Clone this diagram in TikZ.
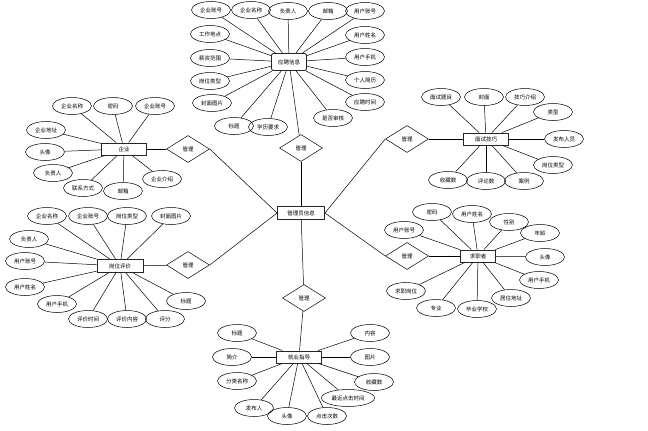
\documentclass[tikz,border=0pt]{standalone}
\usepackage{fontspec}
\setmainfont{Noto Sans CJK SC}
\usetikzlibrary{shapes.geometric}

\tikzset{
  entity/.style={draw=black!85, line width=0.9pt, minimum width=45, minimum height=12, inner sep=1pt},
  attr/.style={draw, ellipse, minimum width=39, minimum height=17, inner sep=0pt},
  rel/.style={draw, diamond, aspect=1.6, minimum width=43, minimum height=27, inner sep=0pt},
}

\begin{document}
\begin{tikzpicture}[x=1pt,y=-1pt,font=\fontsize{5.5}{6.5}\selectfont,line width=0.5pt]
\useasboundingbox (0,0) rectangle (648,431);

% central entity
\node[entity, minimum width=47, minimum height=13] (admin) at (301,213) {管理员信息};

% top: apply info
\node[entity, rounded corners=2pt, minimum width=35, minimum height=17] (apply) at (289,62) {应聘信息};
\node[rel] (r1) at (301,148) {管理};
\foreach \n/\x/\y/\txt in {a1/211/10/企业账号, a2/251/10/企业名称, a3/288/11/负责人, a4/328/11/邮箱,
    a5/365/11/用户账号, a6/365/35/用户姓名, a7/365/57/用户手机, a8/365/80/个人简历, a9/365/102/应聘时间,
    a10/333/118/是否审核, a11/268/127/学历要求, a12/234/126/标题, a13/212/103/封面图片,
    a14/210/81/岗位类型, a15/210/58/薪资范围, a16/210/34/工作地点}
  {\node[attr] (apply-\n) at (\x,\y) {\txt};
   \draw (apply) -- (apply-\n);}
\draw (apply) -- (r1);
\draw (r1) -- (admin);

% left top: firm
\node[entity] (firm) at (124,149) {企业};
\node[rel] (r2) at (188,149) {管理};
\foreach \n/\x/\y/\txt in {a1/72/106/企业名称, a2/113/106/密码, a3/155/106/企业账号, a4/46/130/企业地址,
    a5/45/152/头像, a6/53/173/负责人, a7/83/188/联系方式, a8/123/191/邮箱, a9/162/179/企业介绍}
  {\node[attr] (firm-\n) at (\x,\y) {\txt};
   \draw (firm) -- (firm-\n);}
\draw (firm) -- (r2);
\draw (r2.east) -- (admin.west);

% right top: skill
\node[entity] (skill) at (486,139) {面试技巧};
\node[rel] (r3) at (407,139) {管理};
\foreach \n/\x/\y/\txt in {a1/441/97/面试题目, a2/484/97/封面, a3/525/97/技巧介绍, a4/553/112/类型,
    a5/564/139/发布人员, a6/553/165/岗位类型, a7/524/181/案例, a8/486/181/评论数, a9/448/180/收藏数}
  {\node[attr] (skill-\n) at (\x,\y) {\txt};
   \draw (skill) -- (skill-\n);}
\draw (skill) -- (r3);
\draw (r3.west) -- (admin.east);

% left bottom: review
\node[entity, minimum width=46, minimum height=13] (review) at (120,266) {岗位评价};
\node[rel] (r4) at (188,265) {管理};
\foreach \n/\x/\y/\txt in {a1/47/216/企业名称, a2/88/216/企业账号, a3/127/216/岗位类型, a4/171/216/封面图片,
    a5/29/239/负责人, a6/25/261/用户账号, a7/25/287/用户姓名, a8/57/304/用户手机,
    a9/88/319/评价时间, a10/127/319/评价内容, a11/165/319/评分, a12/186/301/标题}
  {\node[attr] (review-\n) at (\x,\y) {\txt};
   \draw (review) -- (review-\n);}
\draw (review) -- (r4);
\draw (r4.east) -- (admin.west);

% right bottom: seeker
\node[entity, minimum width=35] (seeker) at (478,256) {求职者};
\node[rel] (r5) at (407,256) {管理};
\foreach \n/\x/\y/\txt in {a1/404/230/用户账号, a2/432/212/密码, a3/472/214/用户姓名, a4/509/222/性别,
    a5/540/233/年龄, a6/545/257/头像, a7/539/280/用户手机, a8/511/298/居住地址,
    a9/477/309/毕业学校, a10/436/308/专业, a11/406/291/求职岗位}
  {\node[attr] (seeker-\n) at (\x,\y) {\txt};
   \draw (seeker) -- (seeker-\n);}
\draw (seeker) -- (r5);
\draw (r5.west) -- (admin.east);

% bottom: guide
\node[entity] (guide) at (299,357) {就业指导};
\node[rel] (r6) at (304,298) {管理};
\foreach \n/\x/\y/\txt in {a1/237/333/标题, a2/232/357/简介, a3/237/381/分类名称, a4/254/408/发布人,
    a5/287/416/头像, a6/327/416/点击次数, a8/374/382/收藏数, a9/370/357/图片, a10/370/333/内容}
  {\node[attr] (guide-\n) at (\x,\y) {\txt};
   \draw (guide) -- (guide-\n);}
\node[attr, minimum width=53] (guide-a7) at (348,398) {最近点击时间};
\draw (guide) -- (guide-a7);
\draw (admin) -- (r6);
\draw (r6) -- (guide);

\end{tikzpicture}
\end{document}
